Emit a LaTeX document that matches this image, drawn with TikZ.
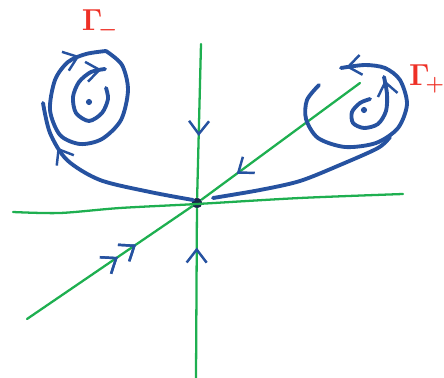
\documentclass[tikz,border=0pt]{standalone}
\usetikzlibrary{arrows.meta,decorations.markings}
\definecolor{pen}{RGB}{38,82,160}
\definecolor{grass}{RGB}{30,175,80}
\definecolor{ink}{RGB}{25,40,75}
\definecolor{brick}{RGB}{238,48,38}
\tikzset{
  orbit/.style={draw=pen,line width=2.2pt,line cap=round,line join=round},
  manifold/.style={draw=grass,line width=1.3pt,line cap=round},
  flowtip/.style={postaction={decorate},decoration={markings,
    mark=at position #1 with {\arrow[color=pen,line width=1.4pt]{Straight Barb[length=2.6mm,width=4mm]}}}},
  fixpt/.style={circle,fill=#1,inner sep=0pt,minimum size=6pt},
  fixpt/.default=ink,
  lbl/.style={text=brick,font=\LARGE\boldmath,inner sep=1pt},
}

\begin{document}
\begin{tikzpicture}[x=0.02cm,y=-0.02cm]
    \useasboundingbox (0,0) rectangle (444,378);
    % fixed points
    \node[fixpt] (sad) at (197,203) {};
    \node[fixpt=pen,minimum size=3.5pt] (fm) at (89,102) {};
    \node[fixpt=pen,minimum size=3.5pt] (fp) at (364,110) {};
    \coordinate (vt) at (201,44);
    \coordinate (vb) at (196,378);
    \coordinate (dl) at (27,319);
    \coordinate (dr) at (360,83);
    % invariant lines
    \draw[manifold] plot[smooth] coordinates {(13,212) (60,213) (120,208) (197,204) (300,198) (403,194)};
    \draw[manifold,flowtip=0.6] (vt) -- (sad);
    \draw[manifold,flowtip=0.77] (vb) -- (sad);
    \draw[manifold,flowtip=0.55,flowtip=0.66] (dl) -- (sad);
    \draw[manifold,flowtip=0.78] (dr) -- (sad);
    % Gamma minus
    \draw[orbit,flowtip=0.97] plot[smooth] coordinates {(106,88) (108,99) (102,113) (89,121) (76,113) (73,97) (79,82) (91,72) (105,69)};
    \draw[orbit,flowtip=0.9] plot[smooth] coordinates {(106,51) (122,65) (128,90) (121,120) (102,139) (80,144) (60,135) (50,110) (55,80) (68,62) (86,54) (106,51)};
    \draw[orbit,flowtip=0.76] plot[smooth] coordinates {(193,200) (150,192) (100,180) (67,160) (50,133) (43,103)};
    % Gamma plus
    \draw[orbit,flowtip=0.97] plot[smooth] coordinates {(370,99) (360,103) (352,112) (353,123) (364,128) (378,124) (386,111) (387,94) (384,77)};
    \draw[orbit,flowtip=0.98] plot[smooth] coordinates {(319,85) (307,100) (306,119) (318,138) (345,147) (376,143) (398,128) (407,104) (400,80) (385,68) (365,65) (341,68)};
    \draw[orbit] plot[smooth] coordinates {(213,198) (260,190) (300,181) (340,165) (378,148) (390,137)};
    % labels
    \node[lbl] (gm) at (100,24) {$\Gamma_{\!-}$};
    \node[lbl] (gp) at (427,79) {$\Gamma_{\!+}$};
\end{tikzpicture}
\end{document}
